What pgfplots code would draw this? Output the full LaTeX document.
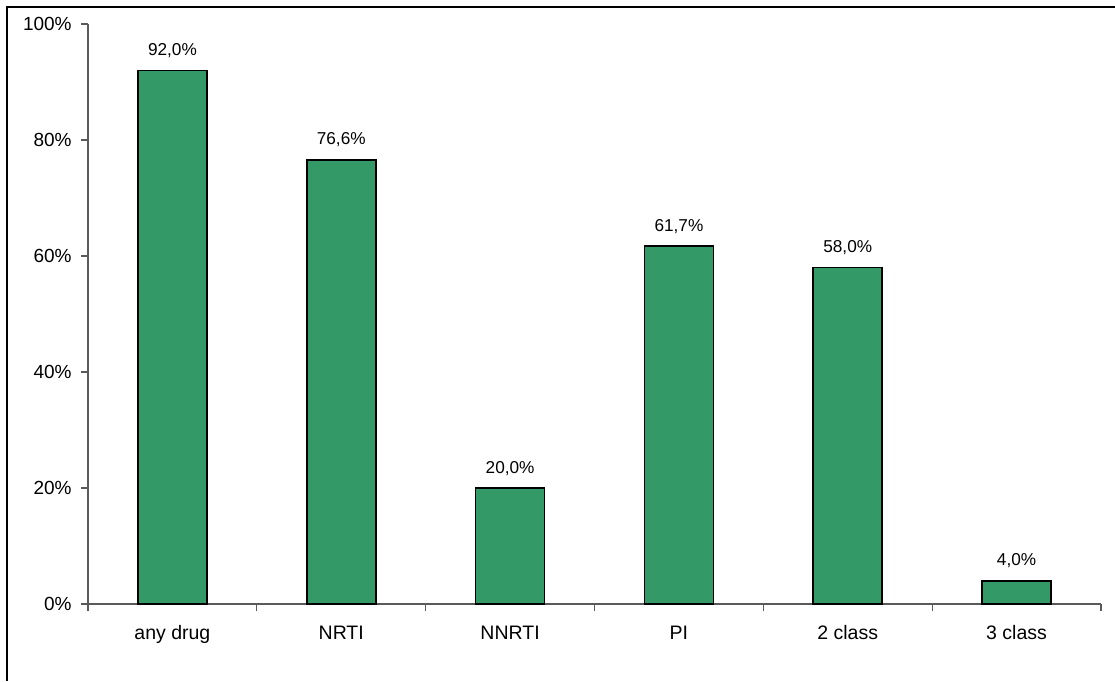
\documentclass[border=0pt]{standalone}
\usepackage{pgfplots}
\pgfplotsset{compat=1.18}
\usepackage{fontspec}
\setmainfont{Liberation Sans}
\definecolor{bargreen}{RGB}{51,153,102}
\definecolor{axgray}{RGB}{90,90,90}
\begin{document}
\begin{tikzpicture}
% page area and outer frame (1 px = 0.5 pt)
\useasboundingbox (0,0) rectangle (557.5pt,340.5pt);
\draw[line width=0.9pt] (3.5pt,0) -- (3.5pt,337pt) -- (557.5pt,337pt);
\begin{axis}[
  at={(44pt,38.5pt)}, anchor=south west,
  scale only axis, width=506.5pt, height=290pt,
  xmin=0, xmax=6, ymin=0, ymax=100,
  axis lines*=left,
  axis line style={-, axgray, line width=0.6pt},
  every tick/.style={axgray, line width=0.6pt},
  tick align=outside,
  xtick={0.5,1.5,...,5.5},
  xticklabels={any drug, NRTI, NNRTI, PI, 2 class, 3 class},
  minor xtick={0,1,...,6},
  major x tick style={draw=none},
  minor tick length=3.5pt,
  ytick={0,20,...,100},
  yticklabel={\pgfmathprintnumber{\tick}\%},
  major tick length=3.5pt,
  /pgf/number format/assume math mode=true,
  xticklabel style={font=\fontsize{9.75}{12}\selectfont, anchor=base, yshift=-14pt},
  yticklabel style={font=\fontsize{9.5}{12}\selectfont, anchor=east, inner sep=0pt, xshift=-4.5pt},
  ybar, bar width=34.5pt,
  nodes near coords={\pgfmathprintnumber[fixed,fixed zerofill,precision=1,use comma]{\pgfplotspointmeta}\%},
  every node near coord/.append style={font=\fontsize{8.6}{10}\selectfont, anchor=base, inner sep=0pt, yshift=7.5pt},
  clip=false,
]
\addplot[fill=bargreen, draw=black, line width=0.8pt] coordinates {
  (0.5,92.0) (1.5,76.6) (2.5,20.0) (3.5,61.7) (4.5,58.0) (5.5,4.0)
};
\end{axis}
\end{tikzpicture}
\end{document}
